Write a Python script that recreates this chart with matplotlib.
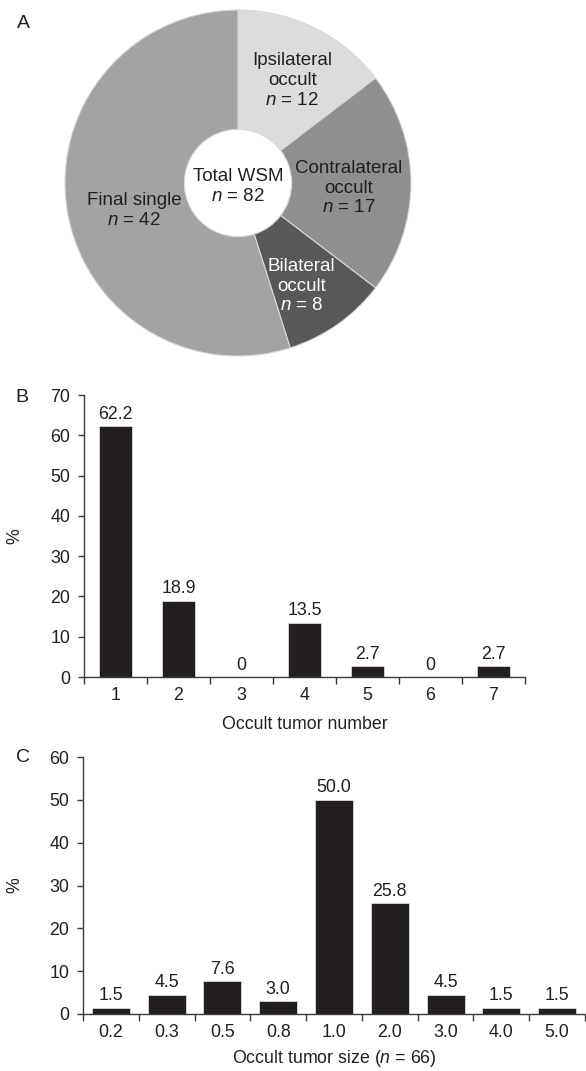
import matplotlib
matplotlib.use("Agg")
import matplotlib.pyplot as plt
import numpy as np

# ---------------- data ----------------
pie_labels = ["Ipsilateral\noccult", "Contralateral\noccult", "Bilateral\noccult", "Final single"]
pie_counts = [12, 17, 8, 42]
total_wsm = 82

num_categories = ["1", "2", "3", "4", "5", "6", "7"]
num_percent = [62.2, 18.9, 0, 13.5, 2.7, 0, 2.7]

size_categories = ["0.2", "0.3", "0.5", "0.8", "1.0", "2.0", "3.0", "4.0", "5.0"]
size_percent = [1.5, 4.5, 7.6, 3.0, 50.0, 25.8, 4.5, 1.5, 1.5]
size_n = 66

# ---------------- style ----------------
plt.rcParams['font.family'] = ['Liberation Sans', 'DejaVu Sans']
plt.rcParams['mathtext.fontset'] = 'custom'
plt.rcParams['mathtext.rm'] = 'Liberation Sans'
plt.rcParams['mathtext.it'] = 'Liberation Sans:italic'
TXT = '#231f20'
BAR = '#231f20'
AX = '#3a3a3a'
FS = 12.8

W, H = 586, 1071
fig = plt.figure(figsize=(W / 100, H / 100), dpi=100)


def box(l, t, r, b):
    return [l / W, 1 - b / H, (r - l) / W, (b - t) / H]


# ---------------- A: donut ----------------
axA = fig.add_axes(box(65, 10, 411, 356))
# the drawn wedges follow the total (82): final single slice fills the remainder
occult = pie_counts[:3]
draw_vals = occult + [total_wsm - sum(occult)]
pie_colors = ['#dcdcdc', '#8f8f91', '#58585b', '#a3a3a5']
wedges, _ = axA.pie(draw_vals, colors=pie_colors, startangle=90, counterclock=False,
                    radius=1.0, wedgeprops=dict(width=1 - 0.31, edgecolor='#d8d8d8', linewidth=0.8))
axA.set_xlim(-1, 1)
axA.set_ylim(-1, 1)
axA.set_aspect('auto')
axA.axis('off')

label_r = [0.67, 0.64, 0.70, 0.62]
label_dang = [-1.5, -2.6, -3.5, 6.0]
text_cols = [TXT, TXT, 'white', TXT]
for w, lab, n, r, da, c in zip(wedges, pie_labels, pie_counts, label_r, label_dang, text_cols):
    mid = np.deg2rad((w.theta1 + w.theta2) / 2 + da)
    x, y = r * np.cos(mid), r * np.sin(mid)
    axA.text(x, y, lab + "\n" + r"$\mathit{n}$ = " + str(n), ha='center', va='center',
             fontsize=13.5, color=c, linespacing=1.2, multialignment='center')
axA.text(0, -0.02, "Total WSM\n" + r"$\mathit{n}$ = " + str(total_wsm), ha='center', va='center',
         fontsize=13.5, color=TXT, linespacing=1.2)
fig.text(23 / W, 1 - 23 / H, "A", fontsize=14, color=TXT, ha='center', va='center')


# ---------------- bar helper ----------------
def bar_panel(ax, cats, vals, width, ymax, fmt):
    x = np.arange(len(cats))
    ax.bar(x, vals, width=width, color=BAR, edgecolor='#e8e8e8', linewidth=0.5, zorder=2)
    for xi, v in zip(x, vals):
        ax.annotate(fmt(v), (xi, v), xytext=(0, 2.5), textcoords='offset points',
                    ha='center', va='bottom', fontsize=FS, color=TXT)
    ax.set_xlim(-0.5, len(cats) - 0.5)
    ax.set_ylim(0, ymax)
    ax.set_yticks(np.arange(0, ymax + 1, 10))
    ax.set_xticks(x)
    ax.set_xticklabels(cats)
    ax.set_xticks(np.arange(-0.5, len(cats)), minor=True)
    ax.tick_params(axis='x', which='major', length=0, pad=7, labelsize=FS, labelcolor=TXT)
    ax.tick_params(axis='x', which='minor', length=5, width=1, direction='out', color=AX)
    ax.tick_params(axis='y', length=4, width=1, direction='out', color=AX, pad=6,
                   labelsize=FS, labelcolor=TXT)
    for s in ['top', 'right']:
        ax.spines[s].set_visible(False)
    for s in ['left', 'bottom']:
        ax.spines[s].set_color(AX)
        ax.spines[s].set_linewidth(1)
    ax.set_ylabel("%", fontsize=FS, color=TXT)


# ---------------- B ----------------
axB = fig.add_axes(box(84, 395, 525, 677))
bar_panel(axB, num_categories, num_percent, 0.51, 70, lambda v: f"{v:g}")
axB.set_xlabel("Occult tumor number", fontsize=FS, color=TXT, labelpad=9)
axB.yaxis.set_label_coords((23 - 84) / 441, 0.5)
fig.text(22 / W, 1 - 397 / H, "B", fontsize=14, color=TXT, ha='center', va='center')

# ---------------- C ----------------
axC = fig.add_axes(box(83, 757, 585, 1014))
bar_panel(axC, size_categories, size_percent, 0.68, 60, lambda v: f"{v:.1f}")
axC.set_xlabel("Occult tumor size (" + r"$\mathit{n}$" + f" = {size_n})", fontsize=FS,
               color=TXT, labelpad=5)
axC.yaxis.set_label_coords((23 - 83) / 502, 0.5)
fig.text(23 / W, 1 - 758 / H, "C", fontsize=14, color=TXT, ha='center', va='center')

fig.savefig("out.png", dpi=100, facecolor='white')
